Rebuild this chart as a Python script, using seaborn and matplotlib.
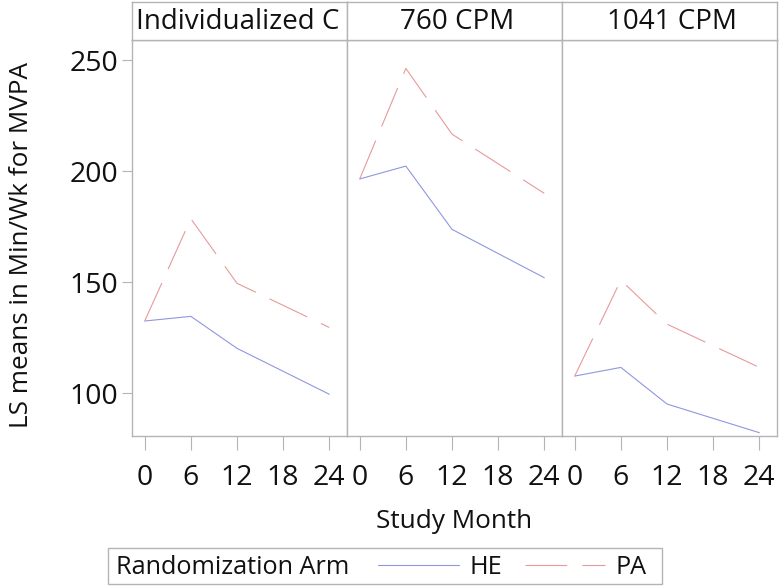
import matplotlib
matplotlib.use("Agg")
import matplotlib.pyplot as plt
import seaborn as sns
import pandas as pd
from matplotlib.patches import Rectangle

panels = ["Individualized C", "760 CPM", "1041 CPM"]
months = [0, 6, 12, 24]
he_values = {
    "Individualized C": [132.6, 134.7, 120.3, 99.6],
    "760 CPM": [196.6, 202.4, 173.9, 152.1],
    "1041 CPM": [107.8, 111.7, 95.2, 82.3],
}
pa_values = {
    "Individualized C": [132.6, 178.7, 149.6, 129.7],
    "760 CPM": [196.6, 246.4, 216.8, 190.1],
    "1041 CPM": [107.8, 151.0, 131.2, 111.7],
}
arms = ["HE", "PA"]
x_ticks = [0, 6, 12, 18, 24]
y_ticks = [100, 150, 200, 250]

rows = []
for p in panels:
    for m, h, a in zip(months, he_values[p], pa_values[p]):
        rows.append({"panel": p, "month": m, "arm": "HE", "value": h})
        rows.append({"panel": p, "month": m, "arm": "PA", "value": a})
df = pd.DataFrame(rows)

sns.set_theme(style="white")
plt.rcParams["font.family"] = ["Open Sans", "DejaVu Sans"]
plt.rcParams["lines.scale_dashes"] = False

W, H = 780, 587
fig = plt.figure(figsize=(W / 100, H / 100), dpi=100)

def fx(px):
    return px / W

def fy(py):
    return 1 - py / H

edge = "#b4b4b4"
txt = "#111111"
palette = {"HE": "#8e98de", "PA": "#e79a9a"}
dashes = {"HE": "", "PA": (30, 11)}
TICK_FS = 20.5
HEAD_FS = 20
LAB_FS = 18.8
LEG_FS = 18.2

lefts = [132, 347, 562]
pw = 215
top, bottom = 40, 436
for i, p in enumerate(panels):
    ax = fig.add_axes([fx(lefts[i]), fy(bottom), fx(pw), (bottom - top) / H])
    sns.lineplot(data=df[df.panel == p], x="month", y="value", hue="arm",
                 style="arm", palette=palette, dashes=dashes, hue_order=arms,
                 style_order=arms, linewidth=0.8, ax=ax, legend=False)
    ax.set_xlim(-1.65, 26.3)
    ax.set_ylim(80.8, 259.2)
    ax.set_xticks(x_ticks)
    ax.set_xticklabels([str(t) for t in x_ticks])
    ax.set_xlabel("")
    ax.set_ylabel("")
    for s in ax.spines.values():
        s.set_color(edge)
        s.set_linewidth(1.0)
    ax.tick_params(axis="x", direction="out", length=10, width=0.8,
                   color=edge, pad=10, labelsize=TICK_FS, labelcolor=txt,
                   bottom=True)
    ax.set_yticks(y_ticks)
    if i == 0:
        ax.tick_params(axis="y", direction="out", length=7, width=0.8,
                       color=edge, pad=3, labelsize=TICK_FS, labelcolor=txt,
                       left=True)
    else:
        ax.tick_params(axis="y", left=False, labelleft=False)

    # strip header
    hax = fig.add_axes([fx(lefts[i]), fy(top), fx(pw), (top - 2) / H])
    hax.set_xticks([])
    hax.set_yticks([])
    for s in hax.spines.values():
        s.set_color(edge)
        s.set_linewidth(1.0)
    if i == 0:
        hax.text(0.02, 0.47, p, ha="left", va="center", fontsize=HEAD_FS,
                 transform=hax.transAxes, color=txt)
    else:
        hax.text(0.51, 0.47, p, ha="center", va="center", fontsize=HEAD_FS,
                 transform=hax.transAxes, color=txt)

fig.text(fx(22), fy(245), "LS means in Min/Wk for MVPA", rotation=90,
         ha="center", va="center", fontsize=LAB_FS, color=txt)
fig.text(fx(454.5), fy(522), "Study Month", ha="center", va="center",
         fontsize=LAB_FS, color=txt)

# legend
fig.patches.append(Rectangle((fx(108), fy(584)), fx(662 - 108), (584 - 548) / H,
                             transform=fig.transFigure, fill=False,
                             edgecolor=edge, linewidth=1.0))
fig.text(fx(116), fy(567), "Randomization Arm", ha="left", va="center",
         fontsize=LEG_FS, color=txt)
handles = [plt.Line2D([], [], color=palette["HE"], lw=0.8),
           plt.Line2D([], [], color=palette["PA"], lw=0.8, dashes=(30, 11))]
fig.legend(handles, arms, loc="center left", bbox_to_anchor=(fx(378), fy(567)),
           ncol=2, frameon=False, fontsize=LEG_FS, handlelength=3.2,
           handletextpad=0.4, columnspacing=0.9, borderpad=0, borderaxespad=0,
           labelcolor=txt)

fig.savefig("out.png", dpi=100, facecolor="white")
